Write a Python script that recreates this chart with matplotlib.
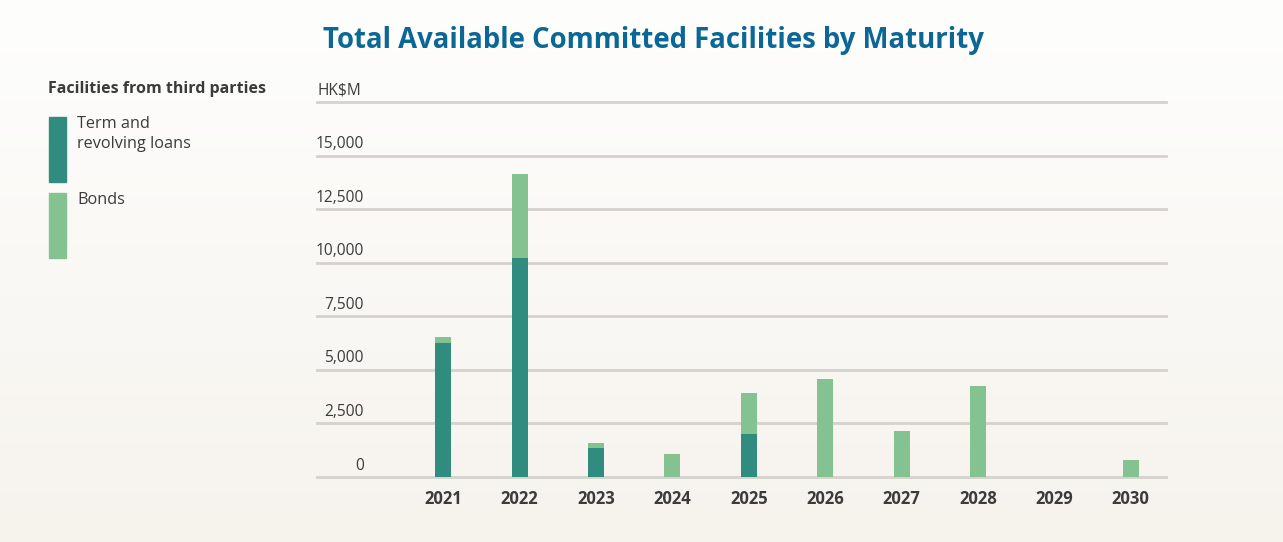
import matplotlib
matplotlib.use('Agg')
import matplotlib.pyplot as plt
import numpy as np
from matplotlib.patches import Rectangle

plt.rcParams['font.family'] = ['Open Sans', 'DejaVu Sans']

# HK$M, by year of maturity
years = ['2021', '2022', '2023', '2024', '2025', '2026', '2027', '2028', '2029', '2030']
term_loans = [6250, 10200, 1350, 0, 2000, 0, 0, 0, 0, 0]
bonds = [290, 3920, 230, 1060, 1920, 4590, 2150, 4260, 0, 800]
y_ticks = [0, 2500, 5000, 7500, 10000, 12500, 15000]
y_labels = ['0', '2,500', '5,000', '7,500', '10,000', '12,500', '15,000']

teal = '#318c80'
green = '#85c291'
grid_col = '#d5d2cd'
text_col = '#3b3b3b'
title_col = '#0b6896'

fig = plt.figure(figsize=(12.83, 5.42), dpi=100)

# soft vertical background gradient
bg = fig.add_axes([0, 0, 1, 1], zorder=-10)
top = np.array([254, 254, 253]) / 255
bot = np.array([246, 243, 237]) / 255
t = np.linspace(0, 1, 256)[:, None, None]
grad = top * (1 - t) + bot * t
bg.imshow(grad, aspect='auto', extent=[0, 1, 0, 1])
bg.set_axis_off()

ax = fig.add_axes([0.2471, 0.1199, 0.6617, 0.6919])
ax.patch.set_alpha(0)

x = np.arange(len(years))
w = 0.21
ax.bar(x, term_loans, w, color=teal, zorder=3)
ax.bar(x, bonds, w, bottom=term_loans, color=green, zorder=3)

ax.set_xlim(-1.65, 9.46)
ax.set_ylim(0, 17500)

for v in y_ticks + [17500]:
    ax.axhline(v, color=grid_col, lw=2, zorder=1, clip_on=False)

for v, lab in zip(y_ticks, y_labels):
    ax.annotate(lab, xy=(0.0554, v), xycoords=ax.get_yaxis_transform(),
                xytext=(0, 2.5), textcoords='offset points',
                ha='right', va='bottom', fontsize=11.2, color=text_col)
ax.annotate('HK$M', xy=(0.0, 17500), xycoords=ax.get_yaxis_transform(),
            xytext=(0, 2.5), textcoords='offset points',
            ha='left', va='bottom', fontsize=11.2, color=text_col)

ax.set_xticks(x)
ax.set_xticklabels(years, fontsize=12, fontweight='bold', color=text_col)
ax.tick_params(axis='x', length=0, pad=9)
ax.set_yticks([])
for s in ax.spines.values():
    s.set_visible(False)

fig.text(0.509, 0.925, 'Total Available Committed Facilities by Maturity',
         ha='center', va='center', fontsize=19.8, fontweight='bold', color=title_col)

# legend block on the left
fig.text(48 / 1283, 1 - 89 / 542, 'Facilities from third parties',
         ha='left', va='center', fontsize=11.5, fontweight='bold', color=text_col)
fig.add_artist(Rectangle((49 / 1283, 1 - 182 / 542), 17 / 1283, 65 / 542,
                         transform=fig.transFigure, color=teal))
fig.add_artist(Rectangle((49 / 1283, 1 - 258 / 542), 17 / 1283, 65 / 542,
                         transform=fig.transFigure, color=green))
fig.text(77 / 1283, 1 - 116 / 542, 'Term and\nrevolving loans',
         ha='left', va='top', fontsize=11.7, color=text_col, linespacing=1.3)
fig.text(77 / 1283, 1 - 192 / 542, 'Bonds',
         ha='left', va='top', fontsize=11.7, color=text_col)

fig.savefig('out.png', dpi=100)
